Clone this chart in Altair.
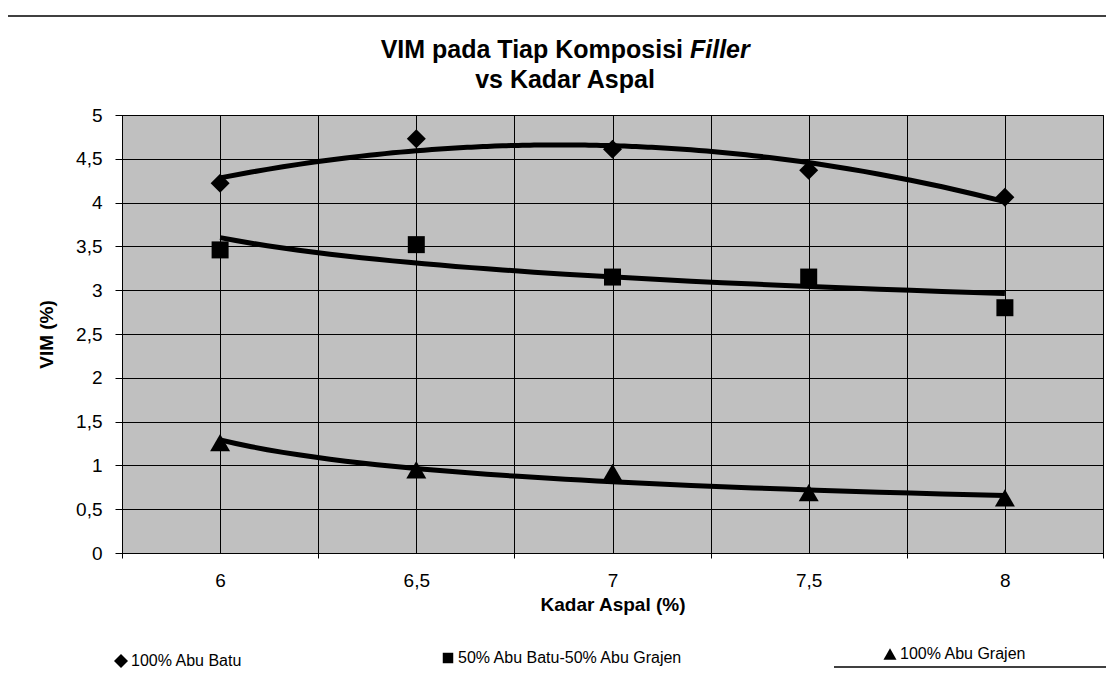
import altair as alt
import pandas as pd

# ---- data ----
kadar_aspal = [6, 6.5, 7, 7.5, 8]
kadar_labels = ["6", "6,5", "7", "7,5", "8"]
vim_abu_batu = [4.22, 4.73, 4.61, 4.37, 4.06]
vim_campuran = [3.46, 3.52, 3.15, 3.15, 2.80]
vim_abu_grajen = [1.26, 0.95, 0.92, 0.69, 0.63]
series_names = ["100% Abu Batu", "50% Abu Batu-50% Abu Grajen", "100% Abu Grajen"]
series_values = [vim_abu_batu, vim_campuran, vim_abu_grajen]
series_shapes = ["diamond", "square", "triangle-up"]
trend_methods = ["poly", "pow", "pow"]
y_ticks = [0, 0.5, 1, 1.5, 2, 2.5, 3, 3.5, 4, 4.5, 5]
x_grid = [0.5, 1, 1.5, 2, 2.5, 3, 3.5, 4, 4.5, 5, 5.5]

rows = []
for name, vals in zip(series_names, series_values):
    for i, (k, v) in enumerate(zip(kadar_aspal, vals)):
        rows.append({"series": name, "idx": i + 1, "kadar": k, "vim": v})
df = pd.DataFrame(rows)

FONT = "Liberation Sans"
W, H = 981, 438
PAD_L, PAD_T = 114, 107

label_array = "[" + ",".join("'" + s + "'" for s in kadar_labels) + "]"
x_label_expr = "datum.value % 1 === 0 ? " + label_array + "[datum.value - 1] : ''"

x_axis = alt.Axis(
    values=x_grid,
    labelExpr=x_label_expr,
    labelOverlap=False,
    labelFlush=False,
    title="Kadar Aspal (%)",
    titleFontSize=19,
    titleFontWeight="bold",
    titlePadding=5,
    labelFontSize=19,
    labelPadding=13,
    tickSize=5,
    tickColor={"condition": {"test": "datum.value % 1 === 0", "value": "transparent"}, "value": "black"},
    grid=True,
    gridColor="black",
    gridOpacity=1,
    gridWidth=1,
    domainColor="black",
    labelColor="black",
    titleColor="black",
)
y_axis = alt.Axis(
    values=y_ticks,
    labelExpr="replace(format(datum.value, '.1~f'), '.', ',')",
    title="VIM (%)",
    titleFontSize=19,
    titleFontWeight="bold",
    titlePadding=19,
    labelFontSize=19,
    labelPadding=13,
    tickSize=7,
    tickColor="black",
    grid=True,
    gridColor="black",
    gridOpacity=1,
    gridWidth=1,
    domainColor="black",
    labelColor="black",
    titleColor="black",
)


def xe():
    return alt.X("idx:Q", scale=alt.Scale(domain=[0.5, 5.5], nice=False, zero=False), axis=x_axis)


def ye():
    return alt.Y("vim:Q", scale=alt.Scale(domain=[0, 5], nice=False, zero=True), axis=y_axis)


layers = []

# trend lines
for name, method in zip(series_names, trend_methods):
    kw = {"method": method}
    if method == "poly":
        kw["order"] = 2
    layers.append(
        alt.Chart(df)
        .transform_filter(alt.datum.series == name)
        .transform_regression("idx", "vim", **kw)
        .mark_line(color="black", strokeWidth=5)
        .encode(x=xe(), y=ye())
    )

# markers with one legend each
marker_sizes = [361, 289, 400]
legend_sizes = [196, 110, 170]
legend_pos = [(-9, 538), (318, 535), (760, 531)]
for name, shp, sz, lsz, (lx, ly) in zip(series_names, series_shapes, marker_sizes, legend_sizes, legend_pos):
    layers.append(
        alt.Chart(df)
        .transform_filter(alt.datum.series == name)
        .mark_point(filled=True, color="black", opacity=1, size=sz, strokeWidth=0)
        .encode(
            x=xe(),
            y=ye(),
            shape=alt.Shape(
                "series:N",
                scale=alt.Scale(domain=[name], range=[shp]),
                legend=alt.Legend(
                    orient="none",
                    legendX=lx,
                    legendY=ly,
                    title=None,
                    padding=0,
                    symbolSize=lsz,
                    symbolFillColor="black",
                    symbolStrokeColor="black",
                    symbolStrokeWidth=0,
                    labelFont=FONT,
                    labelFontSize=16,
                    labelLimit=500,
                    labelColor="black",
                    labelOffset=2,
                ),
            ),
        )
    )

one = alt.Data(values=[{}])

# title (with italic "Filler")
layers.append(
    alt.Chart(one).mark_text(font=FONT, fontSize=25, fontWeight="bold", align="right", baseline="alphabetic", color="black")
    .encode(x=alt.value(561), y=alt.value(-57), text=alt.value("VIM pada Tiap Komposisi"))
)
layers.append(
    alt.Chart(one).mark_text(font=FONT, fontSize=25, fontWeight="bold", fontStyle="italic", align="left", baseline="alphabetic", color="black")
    .encode(x=alt.value(568), y=alt.value(-57), text=alt.value("Filler"))
)
layers.append(
    alt.Chart(one).mark_text(font=FONT, fontSize=25, fontWeight="bold", align="center", baseline="alphabetic", color="black")
    .encode(x=alt.value(443), y=alt.value(-27), text=alt.value("vs Kadar Aspal"))
)

# scanned page frame
layers.append(
    alt.Chart(one).mark_rule(color="black", strokeWidth=1.5)
    .encode(x=alt.value(-115), y=alt.value(-98), y2=alt.value(560))
)
layers.append(
    alt.Chart(one).mark_rule(color="black", strokeWidth=1.5)
    .encode(x=alt.value(-115), x2=alt.value(990), y=alt.value(-99))
)
layers.append(
    alt.Chart(one).mark_rule(color="black", strokeWidth=1.5)
    .encode(x=alt.value(712), x2=alt.value(990), y=alt.value(552))
)

chart = (
    alt.layer(*layers)
    .resolve_scale(shape="independent")
    .properties(
        width=W,
        height=H,
        autosize=alt.AutoSizeParams(type="none"),
        padding={"left": PAD_L, "top": PAD_T, "right": 3, "bottom": 115},
        background="white",
    )
    .configure_view(fill="#c0c0c0", stroke="black", strokeWidth=1)
    .configure_axis(labelFont=FONT, titleFont=FONT)
    .configure_legend(labelFont=FONT)
)

chart.save("out.html", embed_options={"renderer": "svg", "actions": False})
